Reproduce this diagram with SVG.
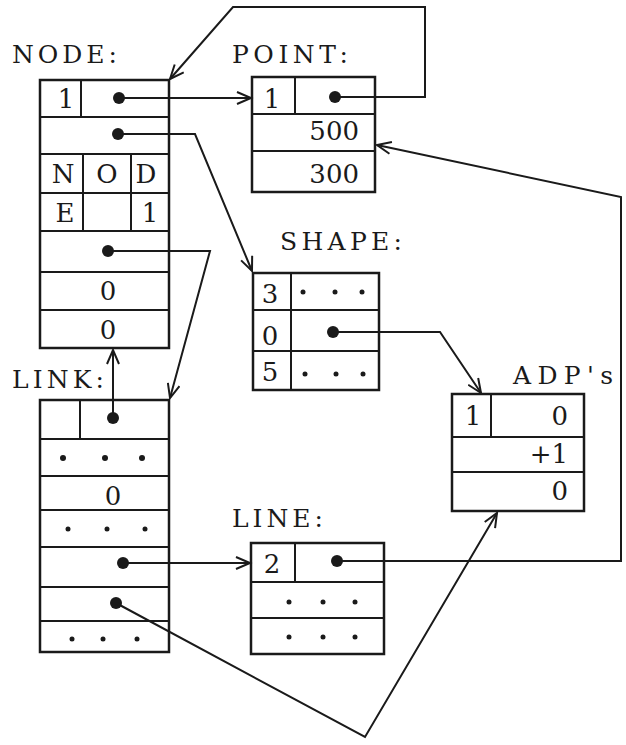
<svg xmlns="http://www.w3.org/2000/svg" width="626" height="745" viewBox="0 0 626 745">
<style>
.box{fill:none;stroke:#1a1a1a;stroke-width:2.5}
.ln{fill:none;stroke:#1a1a1a;stroke-width:2}
.con{fill:none;stroke:#1a1a1a;stroke-width:2;marker-end:url(#arr)}
.lbl{font-family:"DejaVu Serif","Liberation Serif",serif;font-size:25px;fill:#1a1a1a}
.t{font-family:"DejaVu Serif","Liberation Serif",serif;font-size:26px;fill:#1a1a1a}
.m{text-anchor:middle}
.e{text-anchor:end}
.dot{fill:#1a1a1a}
.sd{fill:#1a1a1a}
</style>
<defs>
<marker id="arr" markerUnits="userSpaceOnUse" markerWidth="18" markerHeight="14" refX="15" refY="7" orient="auto">
<path d="M1,1 L15,7 L1,13" fill="none" stroke="#1a1a1a" stroke-width="2"/>
</marker>
</defs>

<g id="node-NODE">
<text class="lbl" x="12" y="63" textLength="105" lengthAdjust="spacing">NODE:</text>
<rect class="box" x="40" y="80" width="129" height="268"/>
<path class="ln" d="M40,117H169M40,154H169M40,193H169M40,231H169M40,272H169M40,310H169M81,80V117M83,154V231M131,154V231"/>
<text class="t m" x="66" y="108">1</text>
<text class="t m" x="63" y="183">N</text>
<text class="t m" x="107" y="183">O</text>
<text class="t m" x="146" y="183">D</text>
<text class="t m" x="65" y="222">E</text>
<text class="t m" x="150" y="222">1</text>
<text class="t m" x="108" y="300">0</text>
<text class="t m" x="108" y="339">0</text>
<circle class="dot" cx="119" cy="98" r="6"/>
<circle class="dot" cx="118" cy="134" r="6"/>
<circle class="dot" cx="108" cy="251" r="6"/>
</g>

<g id="node-POINT">
<text class="lbl" x="232" y="63" textLength="116" lengthAdjust="spacing">POINT:</text>
<rect class="box" x="252" y="77" width="123" height="115"/>
<path class="ln" d="M252,114H375M252,151H375M295,77V114"/>
<text class="t m" x="272" y="108">1</text>
<text class="t e" x="359" y="140">500</text>
<text class="t e" x="359" y="183">300</text>
<circle class="dot" cx="335" cy="97" r="6"/>
</g>

<g id="node-SHAPE">
<text class="lbl" x="280" y="250" textLength="122" lengthAdjust="spacing">SHAPE:</text>
<rect class="box" x="253" y="273" width="126" height="117"/>
<path class="ln" d="M253,310H379M253,351H379M291,273V390"/>
<text class="t m" x="270" y="303">3</text>
<text class="t m" x="270" y="345">0</text>
<text class="t m" x="270" y="381">5</text>
<circle class="sd" cx="303" cy="292" r="2.5"/>
<circle class="sd" cx="335" cy="292" r="2.5"/>
<circle class="sd" cx="362" cy="292" r="2.5"/>
<circle class="sd" cx="305" cy="374" r="2.5"/>
<circle class="sd" cx="336" cy="374" r="2.5"/>
<circle class="sd" cx="363" cy="374" r="2.5"/>
<circle class="dot" cx="333" cy="332" r="6"/>
</g>

<g id="node-ADP">
<text class="lbl" x="513" y="384" textLength="100" lengthAdjust="spacing">ADP's</text>
<rect class="box" x="452" y="394" width="132" height="117"/>
<path class="ln" d="M452,437H584M452,472H584M491,394V437"/>
<text class="t m" x="473" y="425">1</text>
<text class="t e" x="568" y="425">0</text>
<text class="t e" x="568" y="463">+1</text>
<text class="t e" x="568" y="500">0</text>
</g>

<g id="node-LINK">
<text class="lbl" x="12" y="388" textLength="92" lengthAdjust="spacing">LINK:</text>
<rect class="box" x="40" y="400" width="129" height="252"/>
<path class="ln" d="M40,439H169M40,476H169M40,510H169M40,547H169M40,587H169M40,621H169M80,400V439"/>
<text class="t m" x="113" y="505">0</text>
<circle class="sd" cx="63" cy="458" r="3"/>
<circle class="sd" cx="105" cy="458" r="3"/>
<circle class="sd" cx="142" cy="458" r="3"/>
<circle class="sd" cx="68" cy="529" r="2.5"/>
<circle class="sd" cx="107" cy="529" r="2.5"/>
<circle class="sd" cx="145" cy="529" r="2.5"/>
<circle class="sd" cx="72" cy="639" r="2.5"/>
<circle class="sd" cx="103" cy="639" r="2.5"/>
<circle class="sd" cx="137" cy="639" r="2.5"/>
<circle class="dot" cx="113" cy="418" r="6"/>
<circle class="dot" cx="123" cy="563" r="6"/>
<circle class="dot" cx="116" cy="603" r="6"/>
</g>

<g id="node-LINE">
<text class="lbl" x="232" y="527" textLength="91" lengthAdjust="spacing">LINE:</text>
<rect class="box" x="251" y="543" width="133" height="111"/>
<path class="ln" d="M251,582H384M251,618H384M295,543V582"/>
<text class="t m" x="272" y="573">2</text>
<circle class="sd" cx="289" cy="602" r="2.5"/>
<circle class="sd" cx="323" cy="602" r="2.5"/>
<circle class="sd" cx="355" cy="602" r="2.5"/>
<circle class="sd" cx="289" cy="637" r="2.5"/>
<circle class="sd" cx="323" cy="637" r="2.5"/>
<circle class="sd" cx="355" cy="637" r="2.5"/>
<circle class="dot" cx="337" cy="561" r="6"/>
</g>

<g id="connectors">
<path class="con" d="M119,98H251"/>
<path class="con" d="M335,97H425V7H233L170,79"/>
<path class="con" d="M118,134H195L252,271"/>
<path class="con" d="M333,332H440L481,393"/>
<path class="con" d="M108,251H210L170,398"/>
<path class="con" d="M113,418V350"/>
<path class="con" d="M123,563H250"/>
<path class="con" d="M337,561H621V197L377,145"/>
<path class="con" d="M116,603L365,737L497,513"/>
</g>
</svg>
